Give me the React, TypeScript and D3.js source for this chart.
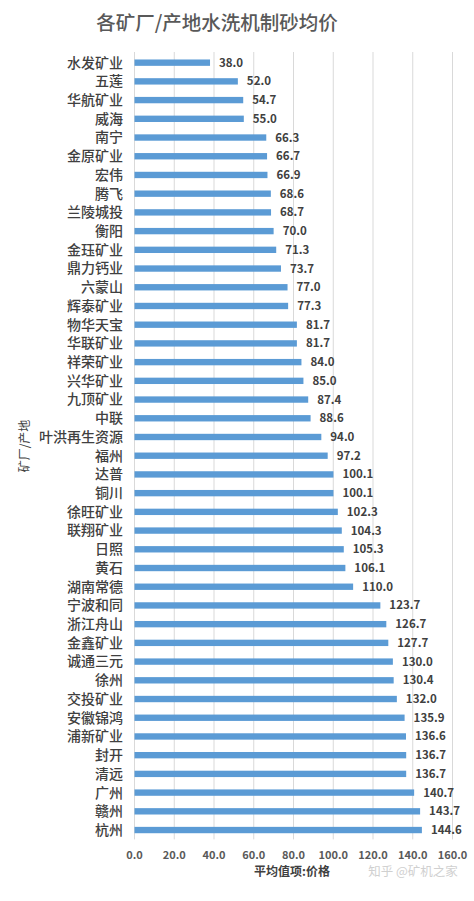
import React from "react";
import * as d3 from "d3";

const categories = ["水发矿业","五莲","华航矿业","威海","南宁","金原矿业","宏伟","腾飞","兰陵城投","衡阳","金珏矿业","鼎力钙业","六蒙山","辉泰矿业","物华天宝","华联矿业","祥荣矿业","兴华矿业","九顶矿业","中联","叶洪再生资源","福州","达普","铜川","徐旺矿业","联翔矿业","日照","黄石","湖南常德","宁波和同","浙江舟山","金鑫矿业","诚通三元","徐州","交投矿业","安徽锦鸿","浦新矿业","封开","清远","广州","赣州","杭州"];
const values = [38.0,52.0,54.7,55.0,66.3,66.7,66.9,68.6,68.7,70.0,71.3,73.7,77.0,77.3,81.7,81.7,84.0,85.0,87.4,88.6,94.0,97.2,100.1,100.1,102.3,104.3,105.3,106.1,110.0,123.7,126.7,127.7,130.0,130.4,132.0,135.9,136.6,136.7,136.7,140.7,143.7,144.6];
const xTicks = [0,20,40,60,80,100,120,140,160];
const title = "各矿厂/产地水洗机制砂均价";
const xTitle = "平均值项:价格";
const yTitle = "矿厂/产地";
const watermark = "知乎 @矿机之家";

const W = 474, H = 901;
const left = 134.5, right = 452.5, top = 53.3, bottom = 839.4;
const font = "'Noto Sans CJK SC', 'Noto Sans', sans-serif";

export default function App() {
  const x = d3.scaleLinear().domain([0, 160]).range([left, right]);
  const y = d3.scaleBand().domain(categories).range([top, bottom]).paddingInner(0.66).paddingOuter(0.33);
  return (
    <svg width={W} height={H} style={{ position: "absolute", left: 0, top: 0, background: "#fff" }} fontFamily={font}>
      <rect x={0} y={0} width={W} height={H} fill="#fff" />
      <text x={217} y={30} textAnchor="middle" fontSize={19.5} fontWeight={500} fill="#595959">{title}</text>
      {xTicks.map(t => (
        <line key={"g" + t} x1={x(t)} x2={x(t)} y1={52} y2={bottom} stroke="#d9d9d9" strokeWidth={1} />
      ))}
      {categories.map((c, i) => (
        <g key={c + i}>
          <rect x={x(0)} y={y(c)!} width={x(values[i]) - x(0)} height={y.bandwidth()} fill="#5b9bd5" />
          <text x={123} y={y(c)! + y.bandwidth() / 2} dy="0.35em" textAnchor="end" fontSize={14} fontWeight={500} fill="#404040">{c}</text>
          <text x={x(values[i]) + 9} y={y(c)! + y.bandwidth() / 2} dy="0.35em" fontSize={11.5} fontWeight={700} fill="#404040">{values[i].toFixed(1)}</text>
        </g>
      ))}
      {xTicks.map(t => (
        <text key={"t" + t} x={x(t)} y={855} dy="0.35em" textAnchor="middle" fontSize={11} fontWeight={700} fill="#595959">{t.toFixed(1)}</text>
      ))}
      <text x={292} y={872} dy="0.35em" textAnchor="middle" fontSize={12} fontWeight={700} fill="#404040">{xTitle}</text>
      <text x={413} y={872} dy="0.35em" textAnchor="middle" fontSize={12.5} fill="#d0d0d0">{watermark}</text>
      <text transform={`translate(25,446) rotate(-90)`} dy="0.35em" textAnchor="middle" fontSize={12} fill="#404040">{yTitle}</text>
    </svg>
  );
}
